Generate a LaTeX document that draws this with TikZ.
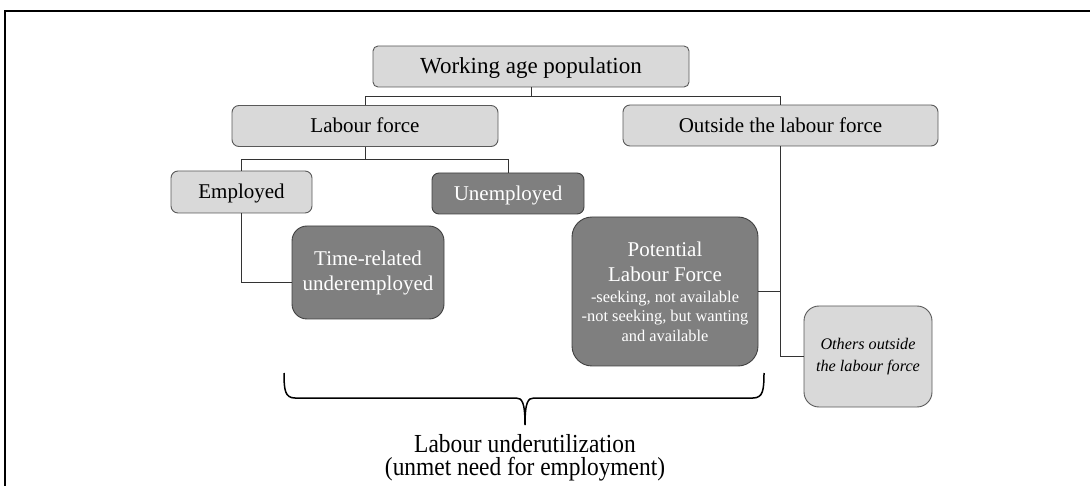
\documentclass[tikz,border=0pt]{standalone}
\usepackage{fontspec}
\setmainfont{Liberation Serif}
\newfontfamily\boxserif{Liberation Serif}
\newfontfamily\condserif[FakeStretch=0.9]{Liberation Serif}
\definecolor{boxlight}{HTML}{D9D9D9}
\definecolor{boxdark}{HTML}{7F7F7F}
\begin{document}
\begin{tikzpicture}[x=1pt,y=-1pt,
  boxbase/.style={line width=0.9pt, inner sep=0pt, align=center,
    font=\boxserif\fontsize{21}{25}\selectfont},
  lightbox/.style={boxbase, draw=black!65, fill=boxlight, text=black},
  darkbox/.style={boxbase, draw=black!75, fill=boxdark, text=white},
  oneline/.style={text height=14pt, text depth=0pt},
  link/.style={draw=black!80, line width=0.9pt},
  bracket/.style={draw=black, line width=1.5pt},
]
\useasboundingbox (0,0) rectangle (1090,486);
\clip (0,0) rectangle (1090,486);

% outer frame
\draw[line width=2pt] (5,500) -- (5,11) -- (1100,11);

% boxes
\node[lightbox, minimum width=316, minimum height=41, rounded corners=5pt,
      font=\boxserif\fontsize{23}{27}\selectfont, text height=15pt, text depth=0pt]
      (wap) at (531,66.5) {Working age population};
\node[lightbox, oneline, minimum width=266, minimum height=41, rounded corners=7pt]
      (lf) at (365,126) {Labour force};
\node[lightbox, oneline, minimum width=315, minimum height=41, rounded corners=7pt]
      (olf) at (780.5,125.5) {Outside the labour force};
\node[lightbox, oneline, minimum width=141, minimum height=42, rounded corners=7pt]
      (emp) at (241.5,192) {Employed};
\node[darkbox, oneline, minimum width=152, minimum height=41, rounded corners=7pt]
      (unemp) at (508,193.5) {Unemployed};
\node[darkbox, minimum width=152, minimum height=93, rounded corners=15pt]
      (tru) at (368,272.5) {Time-related\\underemployed};
\node[darkbox, minimum width=186, minimum height=149, rounded corners=20pt]
      (plf) at (665,291.5)
      {Potential\\Labour Force\\[-4pt]
       {\fontsize{16.4}{19.5}\selectfont -seeking, not available}\\[-5.5pt]
       {\fontsize{16.4}{19.5}\selectfont -not seeking, but wanting}\\[-5.5pt]
       {\fontsize{16.4}{19.5}\selectfont and available}};
\node[lightbox, minimum width=128, minimum height=101, rounded corners=15pt,
      font=\boxserif\fontsize{16.2}{22}\selectfont\itshape]
      (oth) at (868,356.5) {Others outside\\the labour force};

% connectors
\path (wap.south) ++(0,9.5) coordinate (j1);
\draw[link] (wap.south) -- (j1);
\draw[link] (lf.north) |- (j1) -| (olf.north);
\path (lf.south) ++(0,12.5) coordinate (j2);
\draw[link] (lf.south) -- (j2);
\draw[link] (emp.north) |- (j2) -| (unemp.north);
\draw[link] (emp.south) |- ([yshift=-9.5pt]tru.west);
\draw[link] (olf.south) |- (oth.west);
\draw[link] (plf.east) -- (plf.east -| olf.south);

% brace under the underutilization groups
\coordinate (bl) at (284,373);
\coordinate (br) at (764,373);
\coordinate (bt) at (525,425);
\draw[bracket] (bl) .. controls (284,390) and (285,398) .. (295,398)
  -- (516,398) .. controls (522,398) and (525,402) .. (bt)
  .. controls (525,402) and (528,398) .. (534,398)
  -- (753,398) .. controls (763,398) and (764,390) .. (br);

\node[anchor=north, inner sep=0pt, align=center,
      font=\condserif\fontsize{26}{23.5}\selectfont]
      (lu) at (525,434) {Labour underutilization\\(unmet need for employment)};
\end{tikzpicture}
\end{document}
